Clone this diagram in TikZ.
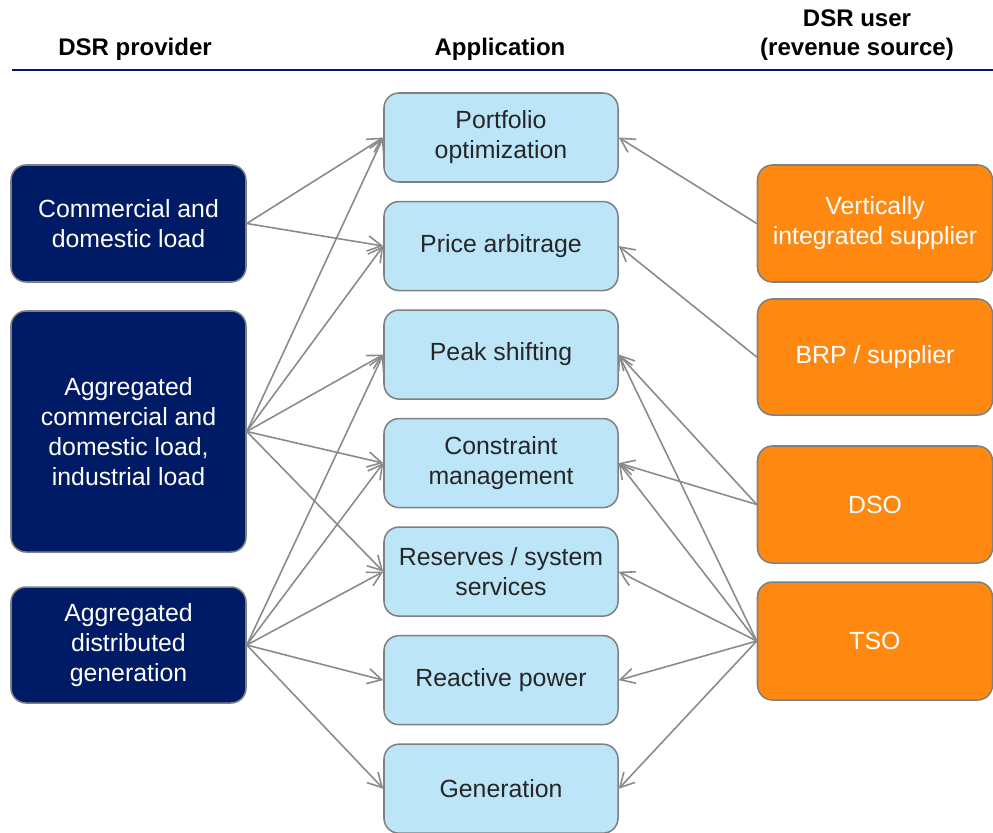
\documentclass[tikz,border=0pt]{standalone}
\usepackage{fontspec}
\setmainfont{Liberation Sans}
\usepackage{xcolor}
\usepackage{tikz}
\usetikzlibrary{positioning,arrows.meta}
\definecolor{dsrnavy}{RGB}{0,27,102}
\definecolor{dsrorange}{RGB}{255,136,17}
\definecolor{dsrblue}{RGB}{189,229,248}
\definecolor{dsrborder}{RGB}{128,128,128}
\definecolor{dsrline}{RGB}{138,138,138}
\definecolor{dsrtext}{RGB}{38,38,38}

\begin{document}
\begin{tikzpicture}[x=0.03cm,y=-0.03cm,
    every node/.style={font=\fontsize{21.2}{25.5}\selectfont,align=center,inner sep=0pt},
    box/.style={rectangle,rounded corners=0.45cm,draw=dsrborder,line width=1.3pt,minimum width=7.05cm},
    provider/.style={box,fill=dsrnavy,text=white},
    application/.style={box,fill=dsrblue,text=dsrtext,minimum width=7.02cm,minimum height=2.67cm},
    user/.style={box,fill=dsrorange,text=white},
    head/.style={font=\fontsize{20.5}{25}\selectfont\bfseries},
    node distance=0.54cm,
    arr/.style={draw=dsrline,line width=1.35pt,-{Straight Barb[length=4.2mm,width=4.6mm]}}]
	\useasboundingbox (0,0) rectangle (993,832);
	\node[head] (hprov) at (135,49) {DSR provider};
	\node[head] (happ) at (500,49) {Application};
	\node[head] (huser) at (857,35) {DSR user\\(revenue source)};
	\draw[dsrnavy,line width=1.5pt] (12,70) -- (993,70);
	% applications
	\node[application] (A1) at (501,137.5) {Portfolio\\optimization};
	\node[application,below=of A1] (A2) {Price arbitrage};
	\node[application,below=of A2] (A3) {Peak shifting};
	\node[application,below=of A3] (A4) {Constraint\\management};
	\node[application,below=of A4] (A5) {Reserves / system\\services};
	\node[application,below=of A5] (A6) {Reactive power};
	\node[application,below=of A6] (A7) {Generation};
	% providers
	\node[provider,minimum height=3.51cm] (P1) at (128.5,223.5) {Commercial and\\domestic load};
	\node[provider,minimum height=7.23cm] (P2) at (128.5,431.5) {Aggregated\\commercial and\\domestic load,\\industrial load};
	\node[provider,minimum height=3.48cm] (P3) at (128.5,645) {Aggregated\\distributed\\generation};
	% users
	\node[user,minimum height=3.51cm] (U1) at (875,223.5) {Vertically\\integrated supplier};
	\node[user,minimum height=3.48cm] (U2) at (875,357) {BRP / supplier};
	\node[user,minimum height=3.51cm] (U3) at (875,504.5) {DSO};
	\node[user,minimum height=3.54cm] (U4) at (875,641) {TSO};
	\path (P1.east) edge[arr] (A1.west) edge[arr] (A2.west);
	\path (P2.east) edge[arr] (A1.west) edge[arr] (A2.west) edge[arr] (A3.west) edge[arr] (A4.west) edge[arr] (A5.west);
	\path (P3.east) edge[arr] (A3.west) edge[arr] (A4.west) edge[arr] (A5.west) edge[arr] (A6.west) edge[arr] (A7.west);
	\path (U1.west) edge[arr] (A1.east);
	\path (U2.west) edge[arr] (A2.east);
	\path (U3.west) edge[arr] (A3.east) edge[arr] (A4.east);
	\path (U4.west) edge[arr] (A3.east) edge[arr] (A4.east) edge[arr] (A5.east) edge[arr] (A6.east) edge[arr] (A7.east);
\end{tikzpicture}
\end{document}
